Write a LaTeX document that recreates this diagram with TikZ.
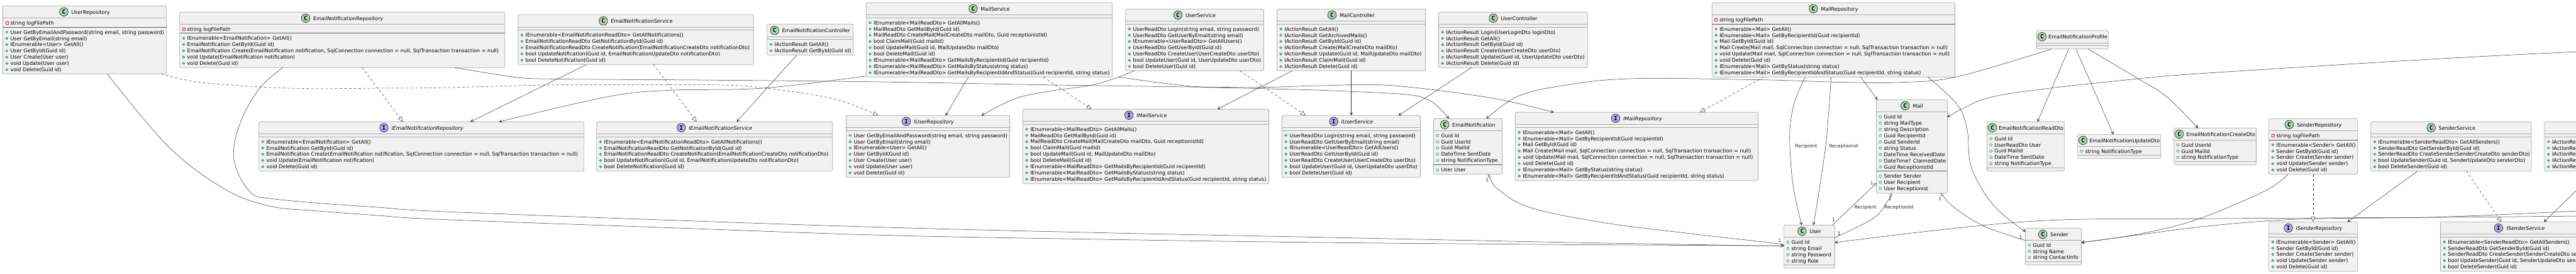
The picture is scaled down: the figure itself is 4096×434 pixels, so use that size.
\documentclass[tikz,border=0pt]{standalone}
\usepackage{fontspec}
\setmainfont{DejaVu Sans}
\newfontfamily\glyphfont{DejaVu Sans Mono}[Scale=1.0]
\usetikzlibrary{arrows.meta,calc}
\definecolor{boxfill}{HTML}{F1F1F1}
\definecolor{boxline}{HTML}{ABABAB}
\definecolor{lineink}{HTML}{303030}
\definecolor{classbadge}{HTML}{ADD1B2}
\definecolor{ifacebadge}{HTML}{B4A7E5}
\definecolor{pubink}{HTML}{038048}
\definecolor{pubfill}{HTML}{84BE84}
\definecolor{privink}{HTML}{C82930}
\newcommand\memfont{\fontsize{8.05}{10}\selectfont}
\newcommand\lblfont{\fontsize{7.5}{10}\selectfont}
\newlength\titlew
\newcounter{txtno}
\tikzset{
  classbox/.style={draw=boxline,fill=boxfill,line width=.7pt,rounded corners=1.5pt,inner sep=0pt,outer sep=0pt,anchor=north west},
  graysep/.style={draw=boxline,line width=.7pt},
  darksep/.style={draw=black!65,line width=.7pt},
  memtext/.style={anchor=base west,inner sep=0pt,outer sep=0pt,font=\memfont,text=black},
  titletext/.style={anchor=base west,inner sep=0pt,outer sep=0pt,font=\memfont,text=black},
  badge/.style={draw=black!90,line width=.6pt},
  badgeglyph/.style={inner sep=0pt,font=\fontsize{9.5}{10}\glyphfont\bfseries},
  edgelabel/.style={inner sep=0pt,font=\lblfont,text=black!85},
  assocline/.style={draw=lineink,line width=.5pt,-{Stealth[length=5.5pt,width=6pt,inset=3.2pt]}},
  implline/.style={draw=lineink,line width=.5pt,dash pattern=on 4pt off 3.5pt,-{Triangle[open,fill=white,length=8pt,width=7pt,line width=.5pt]}},
  aggline/.style={draw=lineink,line width=.5pt,{Diamond[open,fill=white,length=6.5pt,width=4pt,line width=.5pt]}-},
}
% name x1 y1 x2 y2 sep1 sep2 kind title
\newcommand\cls[9]{%
  \pgfmathsetmacro\bw{#4-#2}\pgfmathsetmacro\bh{#5-#3}%
  \node[classbox,minimum width=\bw pt,minimum height=\bh pt] (#1) at (#2,#3) {};
  \draw[graysep] (#2,#6) -- (#4,#6);
  \draw[graysep] (#2,#7) -- (#4,#7);
  \def\kind{#8}\def\kindI{I}%
  \pgfinterruptpicture
    \ifx\kind\kindI\settowidth\titlew{\memfont\itshape #9}\else\settowidth\titlew{\memfont #9}\fi
    \global\titlew=\titlew
  \endpgfinterruptpicture
  \pgfmathsetmacro\tw{\titlew/1pt}%
  \pgfmathsetmacro\gapw{min(5,\bw-3-14-\tw)}%
  \pgfmathsetmacro\cxx{(#2+#4)/2-(14+\gapw+\tw)/2}%
  \pgfmathsetmacro\cyy{(#3+#6)/2}%
  \ifx\kind\kindI
    \draw[badge,fill=ifacebadge] (\cxx+7,\cyy) circle[radius=6.8pt];
    \node[badgeglyph] (#1-g) at (\cxx+7,\cyy) {I};
    \node[titletext,font=\memfont\itshape] (#1-t) at (\cxx+14+\gapw,\cyy+3.2) {#9};
  \else
    \draw[badge,fill=classbadge] (\cxx+7,\cyy) circle[radius=6.8pt];
    \node[badgeglyph] (#1-g) at (\cxx+7,\cyy) {C};
    \node[titletext] (#1-t) at (\cxx+14+\gapw,\cyy+3.2) {#9};
  \fi
}
\newcommand\rowsat[2]{\def\rx{#1}\def\ry{#2}}
\newcommand\puttext[1]{%
  \stepcounter{txtno}%
  \node[memtext] (txt\arabic{txtno}) at (\rx+12,\ry+3.1) {#1};
  \pgfmathsetmacro\ry{\ry+9.93}%
  \global\let\ry\ry
}
\newcommand\mth[1]{\fill[fill=pubfill,draw=pubink,line width=.4pt] (\rx+6.2,\ry) circle[radius=1.9pt];\puttext{#1}}
\newcommand\fld[1]{\draw[draw=pubink,line width=.5pt] (\rx+6.2,\ry) circle[radius=2pt];\puttext{#1}}
\newcommand\prv[1]{\draw[draw=privink,line width=.5pt] (\rx+4.3,\ry-2) rectangle (\rx+8.3,\ry+2);\puttext{#1}}
\begin{document}
\begin{tikzpicture}[x=1pt,y=-1pt]
\fill[white] (0,0) rectangle (4096,434);
\clip (0,0) rectangle (4096,434);
% ---------- top row
\cls{UR}{4.5}{9.3}{264.7}{117.3}{28.3}{43.3}{C}{UserRepository}
\rowsat{4.5}{36}\prv{string logFilePath}
\rowsat{4.5}{51}
\mth{User GetByEmailAndPassword(string email, string password)}
\mth{User GetByEmail(string email)}
\mth{IEnumerable<User> GetAll()}
\mth{User GetById(Guid id)}
\mth{User Create(User user)}
\mth{void Update(User user)}
\mth{void Delete(Guid id)}
\draw[darksep] (4.5,43.3) -- (264.7,43.3);

\cls{ENR}{285.7}{19.3}{802.7}{107.3}{38.3}{52.3}{C}{EmailNotificationRepository}
\rowsat{285.7}{46}\prv{string logFilePath}
\rowsat{285.7}{60.7}
\mth{IEnumerable<EmailNotification> GetAll()}
\mth{EmailNotification GetById(Guid id)}
\mth{EmailNotification Create(EmailNotification notification, SqlConnection connection = null, SqlTransaction transaction = null)}
\mth{void Update(EmailNotification notification)}
\mth{void Delete(Guid id)}
\draw[darksep] (285.7,52.3) -- (802.7,52.3);

\cls{ENS}{823.7}{23.3}{1198.2}{102.3}{43.3}{47.3}{C}{EmailNotificationService}
\rowsat{823.7}{55.7}
\mth{IEnumerable<EmailNotificationReadDto> GetAllNotifications()}
\mth{EmailNotificationReadDto GetNotificationById(Guid id)}
\mth{EmailNotificationReadDto CreateNotification(EmailNotificationCreateDto notificationDto)}
\mth{bool UpdateNotification(Guid id, EmailNotificationUpdateDto notificationDto)}
\mth{bool DeleteNotification(Guid id)}

\cls{ENC}{1219.6}{38.3}{1356.7}{87.3}{58.3}{62.3}{C}{EmailNotificationController}
\rowsat{1219.6}{70.5}
\mth{IActionResult GetAll()}
\mth{IActionResult GetById(Guid id)}

\cls{MS}{1377.2}{4.3}{1768.7}{122.3}{23.3}{28.3}{C}{MailService}
\rowsat{1377.2}{36}
\mth{IEnumerable<MailReadDto> GetAllMails()}
\mth{MailReadDto GetMailById(Guid id)}
\mth{MailReadDto CreateMail(MailCreateDto mailDto, Guid receptionistId)}
\mth{bool ClaimMail(Guid mailId)}
\mth{bool UpdateMail(Guid id, MailUpdateDto mailDto)}
\mth{bool DeleteMail(Guid id)}
\mth{IEnumerable<MailReadDto> GetMailsByRecipientId(Guid recipientId)}
\mth{IEnumerable<MailReadDto> GetMailsByStatus(string status)}
\mth{IEnumerable<MailReadDto> GetMailsByRecipientIdAndStatus(Guid recipientId, string status)}

\cls{US}{1789.7}{14.3}{2009.4}{112.3}{33.3}{38.3}{C}{UserService}
\rowsat{1789.7}{46}
\mth{UserReadDto Login(string email, string password)}
\mth{UserReadDto GetUserByEmail(string email)}
\mth{IEnumerable<UserReadDto> GetAllUsers()}
\mth{UserReadDto GetUserById(Guid id)}
\mth{UserReadDto CreateUser(UserCreateDto userDto)}
\mth{bool UpdateUser(Guid id, UserUpdateDto userDto)}
\mth{bool DeleteUser(Guid id)}

\cls{MC}{2030.4}{14.3}{2266.5}{112.3}{33.3}{38.3}{C}{MailController}
\rowsat{2030.4}{46}
\mth{IActionResult GetAll()}
\mth{IActionResult GetArchivedMails()}
\mth{IActionResult GetById(Guid id)}
\mth{IActionResult Create(MailCreateDto mailDto)}
\mth{IActionResult Update(Guid id, MailUpdateDto mailDto)}
\mth{IActionResult ClaimMail(Guid id)}
\mth{IActionResult Delete(Guid id)}

\cls{UC}{2287.5}{19.3}{2524.6}{107.3}{38.3}{43.3}{C}{UserController}
\rowsat{2287.5}{51}
\mth{IActionResult Login(UserLoginDto loginDto)}
\mth{IActionResult GetAll()}
\mth{IActionResult GetById(Guid id)}
\mth{IActionResult Create(UserCreateDto userDto)}
\mth{IActionResult Update(Guid id, UserUpdateDto userDto)}
\mth{IActionResult Delete(Guid id)}

\cls{MR}{2722.3}{4.3}{3108.5}{122.3}{23.3}{38.3}{C}{MailRepository}
\rowsat{2722.3}{31}\prv{string logFilePath}
\rowsat{2722.3}{46}
\mth{IEnumerable<Mail> GetAll()}
\mth{IEnumerable<Mail> GetByRecipientId(Guid recipientId)}
\mth{Mail GetById(Guid id)}
\mth{Mail Create(Mail mail, SqlConnection connection = null, SqlTransaction transaction = null)}
\mth{void Update(Mail mail, SqlConnection connection = null, SqlTransaction transaction = null)}
\mth{void Delete(Guid id)}
\mth{IEnumerable<Mail> GetByStatus(string status)}
\mth{IEnumerable<Mail> GetByRecipientIdAndStatus(Guid recipientId, string status)}
\draw[darksep] (2722.3,38.3) -- (3108.5,38.3);

\cls{PF}{3238.4}{48.3}{3352.2}{77.7}{68.3}{72.3}{C}{EmailNotificationProfile}

% ---------- middle row
\cls{IENR}{411.6}{193.3}{928.6}{271.7}{212.3}{217.3}{I}{IEmailNotificationRepository}
\rowsat{411.6}{225}
\mth{IEnumerable<EmailNotification> GetAll()}
\mth{EmailNotification GetById(Guid id)}
\mth{EmailNotification Create(EmailNotification notification, SqlConnection connection = null, SqlTransaction transaction = null)}
\mth{void Update(EmailNotification notification)}
\mth{void Delete(Guid id)}

\cls{IENS}{948.7}{193.3}{1323.7}{271.7}{212.3}{217.3}{I}{IEmailNotificationService}
\rowsat{948.7}{225}
\mth{IEnumerable<EmailNotificationReadDto> GetAllNotifications()}
\mth{EmailNotificationReadDto GetNotificationById(Guid id)}
\mth{EmailNotificationReadDto CreateNotification(EmailNotificationCreateDto notificationDto)}
\mth{bool UpdateNotification(Guid id, EmailNotificationUpdateDto notificationDto)}
\mth{bool DeleteNotification(Guid id)}

\cls{IUR}{1345.5}{183.3}{1605.4}{281.7}{202.3}{207.3}{I}{IUserRepository}
\rowsat{1345.5}{215}
\mth{User GetByEmailAndPassword(string email, string password)}
\mth{User GetByEmail(string email)}
\mth{IEnumerable<User> GetAll()}
\mth{User GetById(Guid id)}
\mth{User Create(User user)}
\mth{void Update(User user)}
\mth{void Delete(Guid id)}

\cls{IMS}{1626.3}{173.3}{2017.4}{291.7}{192.3}{197.3}{I}{IMailService}
\rowsat{1626.3}{205}
\mth{IEnumerable<MailReadDto> GetAllMails()}
\mth{MailReadDto GetMailById(Guid id)}
\mth{MailReadDto CreateMail(MailCreateDto mailDto, Guid receptionistId)}
\mth{bool ClaimMail(Guid mailId)}
\mth{bool UpdateMail(Guid id, MailUpdateDto mailDto)}
\mth{bool DeleteMail(Guid id)}
\mth{IEnumerable<MailReadDto> GetMailsByRecipientId(Guid recipientId)}
\mth{IEnumerable<MailReadDto> GetMailsByStatus(string status)}
\mth{IEnumerable<MailReadDto> GetMailsByRecipientIdAndStatus(Guid recipientId, string status)}

\cls{IUS}{2038.4}{183.3}{2258.5}{281.7}{202.3}{207.3}{I}{IUserService}
\rowsat{2038.4}{215}
\mth{UserReadDto Login(string email, string password)}
\mth{UserReadDto GetUserByEmail(string email)}
\mth{IEnumerable<UserReadDto> GetAllUsers()}
\mth{UserReadDto GetUserById(Guid id)}
\mth{UserReadDto CreateUser(UserCreateDto userDto)}
\mth{bool UpdateUser(Guid id, UserUpdateDto userDto)}
\mth{bool DeleteUser(Guid id)}

\cls{EN}{2279.5}{188.3}{2388.4}{276.7}{207.3}{261.7}{C}{EmailNotification}
\rowsat{2279.5}{215}
\fld{Guid Id}
\fld{Guid UserId}
\fld{Guid MailId}
\fld{DateTime SentDate}
\fld{string NotificationType}
\rowsat{2279.5}{269.7}
\fld{User User}
\draw[darksep] (2279.5,261.7) -- (2388.4,261.7);

\cls{IMR}{2409.4}{178.3}{2795.5}{286.7}{197.3}{202.3}{I}{IMailRepository}
\rowsat{2409.4}{210}
\mth{IEnumerable<Mail> GetAll()}
\mth{IEnumerable<Mail> GetByRecipientId(Guid recipientId)}
\mth{Mail GetById(Guid id)}
\mth{Mail Create(Mail mail, SqlConnection connection = null, SqlTransaction transaction = null)}
\mth{void Update(Mail mail, SqlConnection connection = null, SqlTransaction transaction = null)}
\mth{void Delete(Guid id)}
\mth{IEnumerable<Mail> GetByStatus(string status)}
\mth{IEnumerable<Mail> GetByRecipientIdAndStatus(Guid recipientId, string status)}

\cls{ML}{2983.5}{158.3}{3096.4}{306.7}{177.3}{271.7}{C}{Mail}
\rowsat{2983.5}{185.5}
\fld{Guid Id}
\fld{string MailType}
\fld{string Description}
\fld{Guid RecipientId}
\fld{Guid SenderId}
\fld{string Status}
\fld{DateTime ReceivedDate}
\fld{DateTime? ClaimedDate}
\fld{Guid ReceptionistId}
\rowsat{2983.5}{279.5}
\fld{Sender Sender}
\fld{User Recipient}
\fld{User Receptionist}
\draw[darksep] (2983.5,271.7) -- (3096.4,271.7);

\cls{RD}{3159.4}{193.3}{3282.6}{271.7}{212.3}{266.7}{C}{EmailNotificationReadDto}
\rowsat{3159.4}{220}
\fld{Guid Id}
\fld{UserReadDto User}
\fld{Guid MailId}
\fld{DateTime SentDate}
\fld{string NotificationType}

\cls{UD}{3303.6}{213.3}{3435.7}{251.7}{232.3}{246.7}{C}{EmailNotificationUpdateDto}
\rowsat{3303.6}{240}
\fld{string NotificationType}

\cls{CD}{3456.7}{203.3}{3587.5}{261.7}{222.3}{256.7}{C}{EmailNotificationCreateDto}
\rowsat{3456.7}{230}
\fld{Guid UserId}
\fld{Guid MailId}
\fld{string NotificationType}

\cls{SR}{3607.6}{188.3}{3748.7}{276.7}{207.3}{222.3}{C}{SenderRepository}
\rowsat{3607.6}{215}\prv{string logFilePath}
\rowsat{3607.6}{230}
\mth{IEnumerable<Sender> GetAll()}
\mth{Sender GetById(Guid id)}
\mth{Sender Create(Sender sender)}
\mth{void Update(Sender sender)}
\mth{void Delete(Guid id)}
\draw[darksep] (3607.6,222.3) -- (3748.7,222.3);

\cls{SS}{3769.6}{193.3}{4025}{271.7}{212.3}{217.3}{C}{SenderService}
\rowsat{3769.6}{225}
\mth{IEnumerable<SenderReadDto> GetAllSenders()}
\mth{SenderReadDto GetSenderById(Guid id)}
\mth{SenderReadDto CreateSender(SenderCreateDto senderDto)}
\mth{bool UpdateSender(Guid id, SenderUpdateDto senderDto)}
\mth{bool DeleteSender(Guid id)}

\node[classbox,minimum width=300pt,minimum height=78.4pt] (SC) at (4046,193.3) {};
\draw[graysep] (4046,212.3) -- (4346,212.3);
\draw[graysep] (4046,217.3) -- (4346,217.3);
\rowsat{4046}{225}
\mth{IActionResult}
\mth{IActionResult}
\mth{IActionResult}
\mth{IActionResult}
\mth{IActionResult}

% ---------- bottom row
\cls{UU}{2836.6}{357.3}{2917.4}{425.7}{376.7}{420.7}{C}{User}
\rowsat{2836.6}{384.5}
\fld{Guid Id}
\fld{string Email}
\fld{string Password}
\fld{string Role}

\cls{SN}{3220.5}{362.3}{3309.4}{420.7}{381.7}{415.7}{C}{Sender}
\rowsat{3220.5}{389}
\fld{Guid Id}
\fld{string Name}
\fld{string ContactInfo}

\cls{ISR}{3607.6}{352.3}{3748.7}{430.7}{371.7}{376.7}{I}{ISenderRepository}
\rowsat{3607.6}{384}
\mth{IEnumerable<Sender> GetAll()}
\mth{Sender GetById(Guid id)}
\mth{Sender Create(Sender sender)}
\mth{void Update(Sender sender)}
\mth{void Delete(Guid id)}

\node[classbox,minimum width=300pt,minimum height=78.4pt] (ISS) at (3880.4,352.3) {};
\draw[graysep] (3880.4,371.7) -- (4180.4,371.7);
\draw[graysep] (3880.4,376.7) -- (4180.4,376.7);
\draw[badge,fill=ifacebadge] (3972.7,362) circle[radius=6.8pt];
\node[badgeglyph] (ISS-g) at (3972.7,362) {I};
\node[titletext,font=\memfont\itshape] (ISS-t) at (3985.5,365.2) {ISenderService};
\rowsat{3880.4}{384}
\mth{IEnumerable<SenderReadDto> GetAllSenders()}
\mth{SenderReadDto GetSenderById(Guid id)}
\mth{SenderReadDto CreateSender(SenderCreateDto senderDto)}
\mth{bool UpdateSender(Guid id, SenderUpdateDto senderDto)}
\mth{bool DeleteSender(Guid id)}

% ---------- free ends past the right edge
\coordinate (offA) at (4100,82);
\coordinate (offB) at (4100,335);
\coordinate (offC) at (4100,343);
\coordinate (offD) at (4100,299);

% ---------- connectors
\tikzset{smooth path/.style={}}
\draw[assocline] plot[smooth,tension=.6] coordinates {(170.5,0 |- UR.south) (268,233) (357,300) (428,327) (500,334.5) (600,342) (700,348.3) (1050,361) (1400,373.3) (1750,380) (2100,385) (2450,388) (2700,389.5) (2790,390) (UU.west |- 0,390)};
\draw[assocline] plot[smooth,tension=.6] coordinates {(449.6,0 |- ENR.south) (413,140) (384,190) (371.4,240) (379.5,277) (401.8,308.3) (428.6,315) (500,322) (600,329) (700,335.7) (1050,349) (1400,360.7) (1750,369.5) (2100,376.7) (2450,384) (2700,388.5) (2790,390) (UU.west |- 0,390)};
\draw[implline] plot[smooth,tension=.6] coordinates {(256.7,0 |- UR.south) (312.5,130) (401.8,137.3) (491,140.7) (600,140) (700,139.3) (865,135) (1000,134.5) (1146,135) (1218,140) (1325,156.7) (1396.4,0 |- IUR.north)};
\draw[implline] (575.9,0 |- ENR.south) -- (640.6,0 |- IENR.north);
\draw[assocline] (933,0 |- ENS.south) -- (748.2,0 |- IENR.north);
\draw[assocline] plot[smooth,tension=.6] coordinates {(MS.west |- 0,120.7) (1213.4,140) (1066,143.3) (967.9,153.3) (793.8,0 |- IENR.north)};
\draw[implline] (1039.3,0 |- ENS.south) -- (1107.6,0 |- IENS.north);
\draw[assocline] (1267,0 |- ENC.south) -- (1171.4,0 |- IENS.north);
\draw[assocline] plot[smooth,tension=.6] coordinates {(723.2,0 |- ENR.south) (820.5,122.7) (878.6,125.3) (950,126) (1146,127.3) (1400,130) (1650,134.5) (1891,138) (2002.7,138.7) (2100,136) (2211.6,135.7) (2367.9,155) (2470.5,0 |- IMR.north)};
\draw[assocline] plot[smooth,tension=.6] coordinates {(1779.5,0 |- MS.south) (1891,136.7) (2000,140.5) (2100,143.3) (2230,149.5) (2267,156.7) (2287,170) (2304,0 |- EN.north)};
\draw[assocline] plot[smooth,tension=.6] coordinates {(1804,0 |- US.south) (1743.8,133.3) (1667.9,145) (1614,156.7) (1560.7,0 |- IUR.north)};
\draw[assocline] (1539.7,0 |- MS.south) -- (1503.6,0 |- IUR.north);
\draw[implline] (1658.9,0 |- MS.south) -- (1735.7,0 |- IMS.north);
\draw[implline] (1971.4,0 |- US.south) -- (2076.3,0 |- IUS.north);
\draw[assocline] (2054.9,0 |- MC.south) -- (1935.7,0 |- IMS.north);
\draw[assocline] (2148.7,0 |- MC.south) -- (2148.7,0 |- IUS.north);
\draw[assocline] (2339.7,0 |- UC.south) -- (2223.7,0 |- IUS.north);
\draw[assocline] plot[smooth,tension=.6] coordinates {(3262,0 |- PF.south) (3112.5,121.7) (3023,130.7) (2934,130.7) (2800,126.7) (2591,125) (2479.5,136.7) (2412.5,153.3) (2363.4,0 |- EN.north)};
\draw[implline] (2804.5,0 |- MR.south) -- (2702.7,0 |- IMR.north);
\draw[assocline] plot[smooth,tension=.6] coordinates {(2870.5,0 |- MR.south) (2854,160) (2846.5,200) (2846.5,245) (2852,300) (2864.7,0 |- UU.north)};
\draw[assocline] plot[smooth,tension=.6] coordinates {(2911.6,0 |- MR.south) (2902.7,233.3) (2883.5,0 |- UU.north)};
\draw[assocline] (2958.5,0 |- MR.south) -- (2985.3,0 |- ML.north);
\draw[assocline] plot[smooth,tension=.6] coordinates {(3065.6,0 |- MR.south) (3112.5,166.7) (3128,206.7) (3134.8,266.7) (3170.5,326.7) (SN.west |- 0,367.7)};
\draw[assocline] plot[smooth,tension=.6] coordinates {(offA) (3860,94.3) (3500,116.7) (3400,125) (3246.4,141.7) (3157,156.7) (ML.east |- 0,185.7)};
\draw[assocline] (3289.3,0 |- PF.south) -- (3239.7,0 |- RD.north);
\draw[assocline] (3300.9,0 |- PF.south) -- (3360.3,0 |- UD.north);
\draw[assocline] plot[smooth,tension=.6] coordinates {(3320,0 |- PF.south) (3400,125) (3444.6,153.3) (3495,0 |- CD.north)};
\draw[aggline] plot[smooth,tension=.6] coordinates {(2366.5,0 |- EN.south) (2385.7,303.3) (2434.8,330) (2546.4,353) (2680,370) (2790,382.5) (UU.west |- 0,388)};
\draw[aggline] (ML.west |- 0,290.7) -- (2913.8,0 |- UU.north);
\draw[aggline] plot[smooth,tension=.6] coordinates {(3007.6,0 |- ML.south) (3000.9,320) (2978.6,346.7) (UU.east |- 0,377.3)};
\draw[aggline] plot[smooth,tension=.6] coordinates {(3085.7,0 |- ML.south) (3112.5,333.3) (3157,360) (SN.west |- 0,381.7)};
\draw[assocline] plot[smooth,tension=.6] coordinates {(offC) (3880,345) (3500,347.3) (3224,351.7) (UU.east |- 0,385)};
\draw[assocline] plot[smooth,tension=.6] coordinates {(offB) (3880,344.5) (3712.5,346.7) (3614,350) (3500,360) (3400,373) (SN.east |- 0,385)};
\draw[assocline] plot[smooth,tension=.6] coordinates {(3638,0 |- SR.south) (3601,303.3) (3493.8,348.3) (3400,371.7) (SN.east |- 0,385)};
\draw[assocline] (3844,0 |- SS.south) -- (3732.6,0 |- ISR.north);
\draw[implline] (3678,0 |- SR.south) -- (3678,0 |- ISR.north);
\draw[implline] (3921.7,0 |- SS.south) -- (3977.3,0 |- ISS.north);
\draw[assocline] (offD) -- (4045,0 |- ISS.north);

% ---------- edge labels
\node[edgelabel] (l1) at (2871.9,232.7) {Recipient};
\node[edgelabel] (l2) at (2931.7,232.7) {Receptionist};
\node[edgelabel] (l3) at (2966,329.5) {Recipient};
\node[edgelabel] (l4) at (3019.6,329.5) {Receptionist};
\node[edgelabel] (n1) at (2364.7,286) {1};
\node[edgelabel] (n2) at (2830,381.7) {1};
\node[edgelabel] (n3) at (2976.3,291) {1};
\node[edgelabel] (n4) at (2915.5,348.3) {1};
\node[edgelabel] (n5) at (3005.2,315.5) {1};
\node[edgelabel] (n6) at (2924.3,371) {1};
\node[edgelabel] (n7) at (3084.8,316) {1};
\node[edgelabel] (n8) at (3213,376.5) {1};
\end{tikzpicture}
\end{document}
